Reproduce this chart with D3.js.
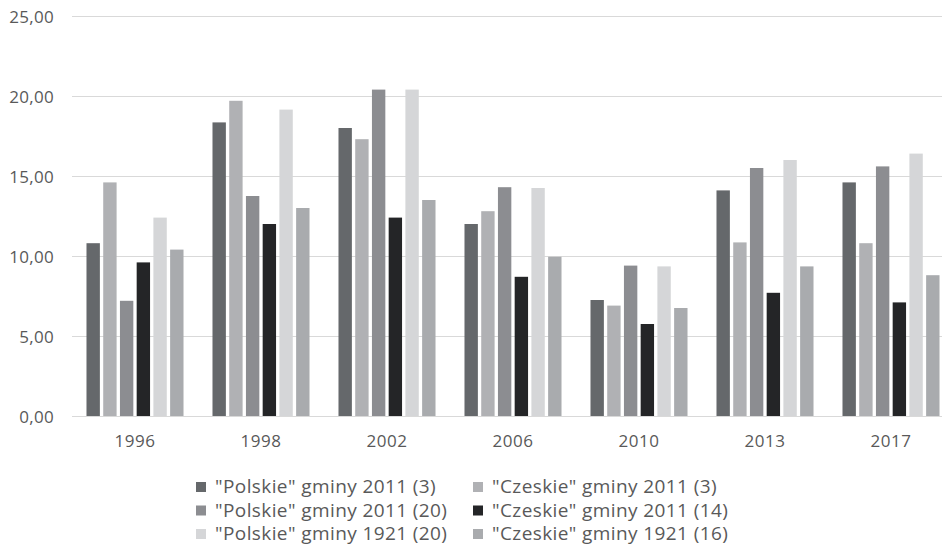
<!DOCTYPE html>
<html>
<head>
<meta charset="utf-8">
<script src="https://cdn.jsdelivr.net/npm/d3@7"></script>
<style>
  body { margin: 0; background: #fff; }
  text { font-family: "Open Sans", Carlito, Calibri, sans-serif; fill: #595959; }
</style>
</head>
<body>
<div id="graph"></div>
<script>
const years = ["1996", "1998", "2002", "2006", "2010", "2013", "2017"];
const seriesNames = [
  "\"Polskie\" gminy 2011 (3)",
  "\"Czeskie\" gminy 2011 (3)",
  "\"Polskie\" gminy 2011 (20)",
  "\"Czeskie\" gminy 2011 (14)",
  "\"Polskie\" gminy 1921 (20)",
  "\"Czeskie\" gminy 1921 (16)"
];
const colors = ["#65686b", "#b0b1b4", "#8c8d91", "#242527", "#d5d6d8", "#a9abae"];

// one array per series, one value per year
const polskie2011_3  = [10.8, 18.35, 18.0, 12.0, 7.25, 14.1, 14.6];
const czeskie2011_3  = [14.6, 19.7, 17.3, 12.8, 6.9, 10.85, 10.8];
const polskie2011_20 = [7.2, 13.75, 20.4, 14.3, 9.4, 15.5, 15.6];
const czeskie2011_14 = [9.6, 12.0, 12.4, 8.7, 5.75, 7.7, 7.1];
const polskie1921_20 = [12.4, 19.15, 20.4, 14.25, 9.35, 16.0, 16.4];
const czeskie1921_16 = [10.4, 13.0, 13.5, 9.95, 6.75, 9.35, 8.8];
const yTicks = [0, 5, 10, 15, 20, 25];

const series = [polskie2011_3, czeskie2011_3, polskie2011_20, czeskie2011_14, polskie1921_20, czeskie1921_16];

const width = 942, height = 550;
const margin = {top: 16, left: 72, bottom: 134};

const svg = d3.select("#graph").append("svg")
  .attr("width", width)
  .attr("height", height);

const x0 = d3.scaleBand()
  .domain(years)
  .range([margin.left, 954])
  .paddingInner(0.23)
  .paddingOuter(0.115);

const x1 = d3.scaleBand()
  .domain(d3.range(series.length))
  .range([0, x0.bandwidth()])
  .paddingInner(0.2);

const y = d3.scaleLinear()
  .domain([0, 25])
  .range([height - margin.bottom, margin.top]);

// gridlines
svg.append("g")
  .selectAll("line")
  .data(yTicks)
  .join("line")
  .attr("x1", margin.left)
  .attr("x2", width)
  .attr("y1", d => y(d) + 0.5)
  .attr("y2", d => y(d) + 0.5)
  .attr("stroke", "#d9d9d9")
  .attr("stroke-width", 1);

// y labels
const yAxis = d3.axisLeft(y)
  .tickValues(yTicks)
  .tickSize(0)
  .tickPadding(0)
  .tickFormat(d => d3.format(".2f")(d).replace(".", ","));

svg.append("g")
  .attr("transform", "translate(54,0)")
  .call(yAxis)
  .call(g => g.select(".domain").remove())
  .call(g => g.selectAll("text")
    .style("font-size", "17px")
    .style("letter-spacing", "0.3px")
    .attr("fill", "#595959")
    .attr("dy", "0.36em"));

// bars
const groups = svg.append("g")
  .selectAll("g")
  .data(years)
  .join("g")
  .attr("transform", d => `translate(${x0(d)},0)`);

groups.selectAll("rect")
  .data((d, i) => series.map((s, k) => ({k: k, v: s[i]})))
  .join("rect")
  .attr("x", d => x1(d.k))
  .attr("width", x1.bandwidth())
  .attr("y", d => y(d.v))
  .attr("height", d => y(0) - y(d.v))
  .attr("fill", d => colors[d.k]);

// x axis
const xAxis = d3.axisBottom(x0).tickSize(0).tickPadding(0);
svg.append("g")
  .attr("transform", `translate(0,${y(0)})`)
  .call(xAxis)
  .call(g => g.select(".domain").remove())
  .call(g => g.selectAll("text")
    .style("font-size", "17px")
    .style("letter-spacing", "0.5px")
    .attr("fill", "#595959")
    .attr("y", 31)
    .attr("dy", 0));

// legend
const legendCols = [196, 473];
const legendRows = [493, 516.5, 540];
const legend = svg.append("g")
  .selectAll("g")
  .data(seriesNames)
  .join("g")
  .attr("transform", (d, i) => `translate(${legendCols[i % 2]},${legendRows[Math.floor(i / 2)]})`);

legend.append("rect")
  .attr("x", 0)
  .attr("y", -11)
  .attr("width", 10)
  .attr("height", 10)
  .attr("fill", (d, i) => colors[i]);

legend.append("text")
  .attr("x", 19)
  .attr("y", 0)
  .style("font-size", "19px")
  .style("letter-spacing", "0.4px")
  .text(d => d);
</script>
</body>
</html>
